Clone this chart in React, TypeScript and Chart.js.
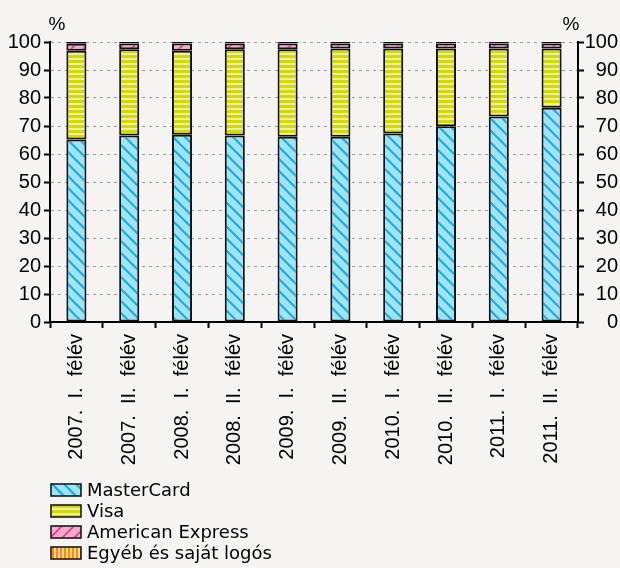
import React, { useEffect, useRef } from "react";
import { Chart, registerables } from "chart.js";

Chart.register(...registerables);

const categories = [
  "2007.  I.  félév",
  "2007.  II.  félév",
  "2008.  I.  félév",
  "2008.  II.  félév",
  "2009.  I.  félév",
  "2009.  II.  félév",
  "2010.  I.  félév",
  "2010.  II.  félév",
  "2011.  I.  félév",
  "2011.  II.  félév",
];

const masterCard = [65.2, 66.6, 66.9, 66.6, 66.2, 66.2, 67.3, 69.9, 73.4, 76.5];
const visa = [31.7, 30.8, 30.0, 30.8, 31.2, 31.5, 30.4, 27.8, 24.3, 21.2];
const amex = [2.5, 2.1, 2.6, 2.1, 2.1, 1.8, 1.8, 1.8, 1.8, 1.8];
const other = [0.6, 0.5, 0.5, 0.5, 0.5, 0.5, 0.5, 0.5, 0.5, 0.5];

const seriesNames = ["MasterCard", "Visa", "American Express", "Egyéb és saját logós"];
const yTicks = [0, 10, 20, 30, 40, 50, 60, 70, 80, 90, 100];
const unitLabel = "%";

const BG = "#f5f4f2";
const TICK_FONT = "Liberation Sans";
const LEGEND_FONT = "DejaVu Sans";

function makePattern(kind: string): CanvasPattern | string {
  const c = document.createElement("canvas");
  const g = c.getContext("2d");
  if (!g) return "#ccc";
  if (kind === "mc") {
    const n = 12;
    c.width = n; c.height = n;
    g.fillStyle = "#a0e3f5"; g.fillRect(0, 0, n, n);
    g.strokeStyle = "#12ade2"; g.lineWidth = 2;
    g.beginPath();
    g.moveTo(-1, -1); g.lineTo(n + 1, n + 1);
    g.moveTo(-1, n - 1); g.lineTo(1, n + 1);
    g.moveTo(n - 1, -1); g.lineTo(n + 1, 1);
    g.stroke();
  } else if (kind === "visa") {
    c.width = 4; c.height = 5;
    g.fillStyle = "#edf09c"; g.fillRect(0, 0, 4, 5);
    g.fillStyle = "#d3da00"; g.fillRect(0, 0, 4, 3);
  } else if (kind === "amex") {
    const n = 12;
    c.width = n; c.height = n;
    g.fillStyle = "#f5a9cb"; g.fillRect(0, 0, n, n);
    g.strokeStyle = "#e5358c"; g.lineWidth = 1.6;
    g.beginPath();
    g.moveTo(-1, n + 1); g.lineTo(n + 1, -1);
    g.moveTo(-1, 1); g.lineTo(1, -1);
    g.moveTo(n - 1, n + 1); g.lineTo(n + 1, n - 1);
    g.stroke();
  } else {
    c.width = 4; c.height = 4;
    g.fillStyle = "#ffd8a6"; g.fillRect(0, 0, 4, 4);
    g.fillStyle = "#ff8a00"; g.fillRect(0, 0, 2, 4);
  }
  const p = g.createPattern(c, "repeat");
  return p || "#ccc";
}

export default function App() {
  const ref = useRef<HTMLCanvasElement | null>(null);

  useEffect(() => {
    document.body.style.margin = "0";
    document.body.style.background = BG;
    const canvas = ref.current;
    if (!canvas) return;

    const fills = [makePattern("mc"), makePattern("visa"), makePattern("amex"), makePattern("other")];
    const values = [masterCard, visa, amex, other];

    const bgPlugin = {
      id: "bg",
      beforeDraw(chart: any) {
        const ctx = chart.ctx;
        ctx.save();
        ctx.fillStyle = BG;
        ctx.fillRect(0, 0, chart.width, chart.height);
        ctx.restore();
      },
    };

    const extrasPlugin = {
      id: "extras",
      afterDraw(chart: any) {
        const ctx = chart.ctx;
        ctx.save();
        ctx.fillStyle = "#000";
        ctx.font = `19px "${TICK_FONT}"`;
        ctx.textAlign = "center";
        ctx.textBaseline = "middle";
        ctx.fillText(unitLabel, chart.chartArea.left + 7, 25);
        ctx.fillText(unitLabel, chart.chartArea.right - 7, 25);

        // legend
        const startY = 490;
        const step = 21;
        ctx.font = `18px "${LEGEND_FONT}"`;
        ctx.textAlign = "left";
        seriesNames.forEach((name, i) => {
          const cy = startY + i * step;
          ctx.fillStyle = fills[i] as any;
          ctx.fillRect(51, cy - 6, 30, 12);
          ctx.lineWidth = 1.6;
          ctx.strokeStyle = "#1a1a1a";
          ctx.strokeRect(51, cy - 6, 30, 12);
          ctx.fillStyle = "#000";
          ctx.fillText(name, 87, cy + 1);
        });
        ctx.restore();
      },
    };

    const tickFont = { family: TICK_FONT, size: 20 };

    const chart = new Chart(canvas, {
      type: "bar",
      data: {
        labels: categories,
        datasets: seriesNames.map((name, i) => ({
          label: name,
          data: values[i],
          backgroundColor: fills[i] as any,
          borderColor: "#111",
          borderWidth: 2,
          borderSkipped: false,
          barPercentage: 0.38,
          categoryPercentage: 1,
        })),
      },
      options: {
        animation: false,
        responsive: false,
        maintainAspectRatio: false,
        layout: { padding: { top: 42, left: 0, right: 2, bottom: 0 } },
        plugins: {
          legend: { display: false },
          tooltip: { enabled: false },
          title: { display: false },
        },
        scales: {
          x: {
            stacked: true,
            offset: true,
            grid: {
              display: true,
              drawOnChartArea: false,
              offset: true,
              tickColor: "#000",
              tickLength: 6,
              tickWidth: 2,
            },
            border: { color: "#000", width: 2 },
            ticks: {
              autoSkip: false,
              maxRotation: 90,
              minRotation: 90,
              color: "#000",
              font: tickFont,
              padding: 6,
            },
            afterFit: (s: any) => {
              s.height = 246;
            },
          },
          y: {
            stacked: true,
            min: 0,
            max: 100,
            afterBuildTicks: (s: any) => {
              s.ticks = yTicks.map((v) => ({ value: v }));
            },
            grid: {
              color: (c: any) => (c.tick && c.tick.value === 0 ? "rgba(0,0,0,0)" : "#9a9a9a"),
              lineWidth: 1,
              tickColor: "#000",
              tickLength: 6,
              tickWidth: 2,
            },
            border: { color: "#000", width: 2, dash: [3, 4] },
            ticks: { color: "#000", font: tickFont, padding: 3 },
            afterFit: (s: any) => {
              s.width = 50;
            },
          },
          y2: {
            position: "right",
            min: 0,
            max: 100,
            afterBuildTicks: (s: any) => {
              s.ticks = yTicks.map((v) => ({ value: v }));
            },
            grid: {
              drawOnChartArea: false,
              tickColor: "#000",
              tickLength: 6,
              tickWidth: 2,
            },
            border: { color: "#000", width: 2 },
            ticks: { color: "#000", font: tickFont, padding: 3, crossAlign: "far" },
            afterFit: (s: any) => {
              s.width = 40;
            },
          },
        },
      } as any,
      plugins: [bgPlugin, extrasPlugin],
    });

    return () => chart.destroy();
  }, []);

  return (
    <div style={{ width: 620, height: 568, background: BG }}>
      <canvas ref={ref} width={620} height={568} style={{ display: "block", width: 620, height: 568 }} />
    </div>
  );
}
